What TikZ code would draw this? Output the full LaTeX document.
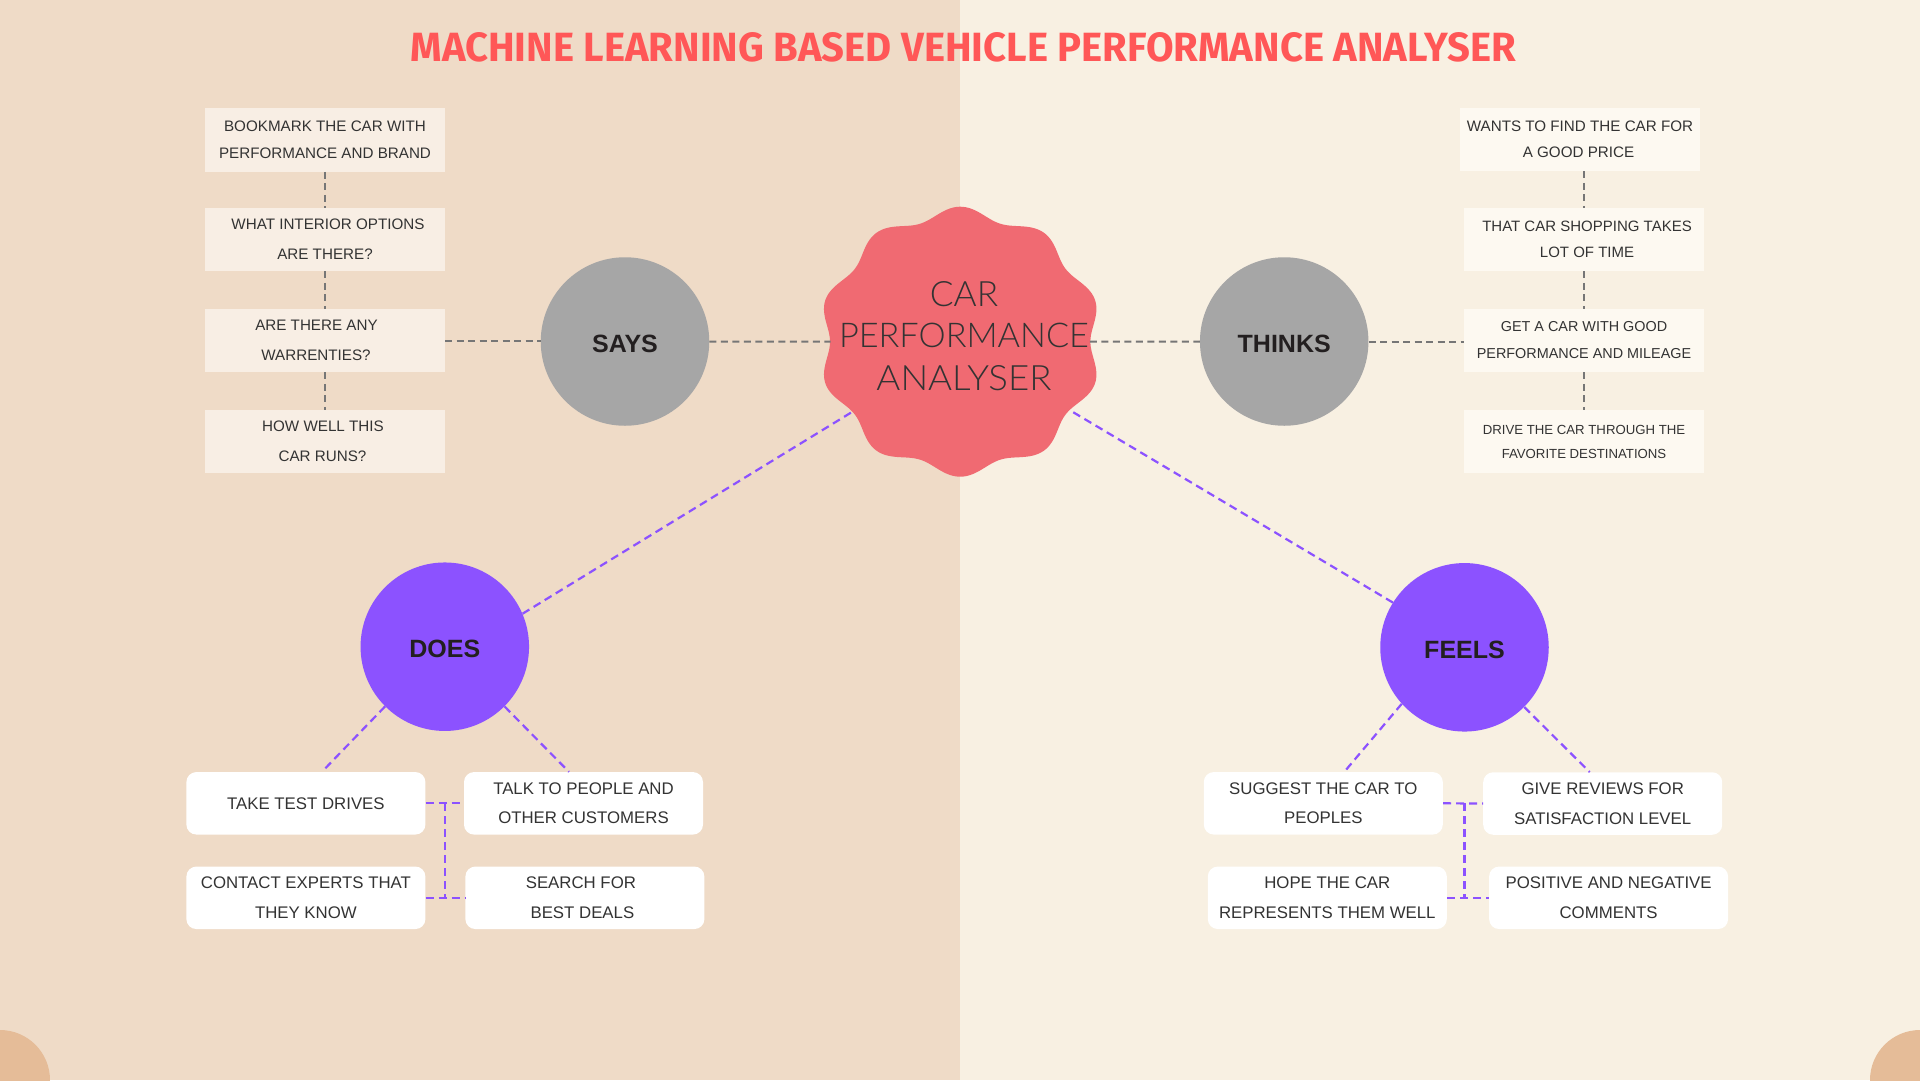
\documentclass[tikz,border=0pt]{standalone}
\usepackage{graphicx}
\usepackage{fontspec}
\setmainfont{Liberation Sans}
\newfontfamily\titlefont{Fira Sans}
\IfFontExistsTF{Lato Light}{\newfontfamily\hubfont{Lato Light}}{\newfontfamily\hubfont{Lato}}
\newcommand{\fitcaps}[3]{\resizebox{#1}{#2}{#3}}
\definecolor{bgL}{HTML}{EFDBC7}
\definecolor{bgR}{HTML}{F8F0E2}
\definecolor{cornerc}{HTML}{E5BC98}
\definecolor{badgec}{HTML}{F06A72}
\definecolor{circgray}{HTML}{A6A6A6}
\definecolor{purp}{HTML}{8C52FF}
\definecolor{titlered}{HTML}{FF5757}
\definecolor{gline}{HTML}{767676}
\definecolor{txt}{HTML}{333333}
\definecolor{darktxt}{HTML}{231F20}
\definecolor{lboxfill}{HTML}{F8EEE4}
\definecolor{rboxfill}{HTML}{FDF9F1}
\tikzset{
  lbox/.style={fill=lboxfill, minimum width=240pt, minimum height=63.5pt, inner sep=0pt,
    align=center, text=txt, font=\fontsize{15}{28}\selectfont},
  rbox/.style={lbox, fill=rboxfill},
  wbox/.style={fill=white, rounded corners=10pt, minimum width=239pt, minimum height=62.5pt,
    inner sep=0pt, align=center, text=txt, font=\fontsize{16.8}{29.5}\selectfont},
  gcirc/.style={circle, fill=circgray, minimum size=168.5pt, inner sep=0pt, text=darktxt,
    font=\fontsize{25}{30}\selectfont\bfseries, text height=22pt, text depth=0pt},
  pcirc/.style={gcirc, fill=purp},
  gdash/.style={draw=gline, line width=2pt, dash pattern=on 7pt off 4.5pt},
  pdash/.style={draw=purp, line width=2.2pt, dash pattern=on 8pt off 5pt},
  hubtxt/.style={inner sep=0pt, anchor=base, text=txt}
}
\begin{document}
\begin{tikzpicture}[x=1pt, y=-1pt]
\useasboundingbox (0,0) rectangle (1920,1080);
\clip (0,0) rectangle (1920,1080);
% backgrounds
\fill[bgL] (0,0) rectangle (960,1080);
\fill[bgR] (960,0) rectangle (1920,1080);
\fill[cornerc] (0,1080) circle[radius=50pt];
\fill[cornerc] (1920,1080) circle[radius=50pt];

% title
\node[inner sep=0pt, anchor=south, text=titlered] (title) at (963.2,62)
  {\fitcaps{1105pt}{29pt}{\titlefont\bfseries MACHINE LEARNING BASED VEHICLE PERFORMANCE ANALYSER}};

% central badge
\begin{scope}[shift={(960.2,341.7)}, xscale=1.05]
  \fill[badgec] plot[domain=0:360, samples=361] (\x:{129.5-5.5*cos(10*\x)}) -- cycle;
\end{scope}
\node[circle, minimum size=259pt, inner sep=0pt] (hub) at (960.2,341.7) {};
\node[hubtxt] (hubA) at (964,306) {\fitcaps{68.3pt}{25pt}{\hubfont CAR}};
\node[hubtxt] (hubB) at (964,347.7) {\fitcaps{250pt}{24.4pt}{\hubfont PERFORMANCE}};
\node[hubtxt] (hubC) at (964,390) {\fitcaps{175pt}{25pt}{\hubfont ANALYSER}};

% circles
\node[gcirc] (says) at (625,341.5) {SAYS};
\node[gcirc] (thinks) at (1284.2,341.5) {THINKS};
\node[pcirc] (does) at (444.8,646.7) {DOES};
\node[pcirc] (feels) at (1464.5,647.3) {FEELS};

% says boxes
\node[lbox, font=\fontsize{15.2}{27}\selectfont] (b1) at (325,140) {BOOKMARK THE CAR WITH\\PERFORMANCE AND BRAND};
\node[lbox, font=\fontsize{15.2}{30}\selectfont] (b2) at (325,239.5) {WHAT INTERIOR OPTIONS\hspace*{-6pt}\\ARE THERE?};
\node[lbox, font=\fontsize{15.2}{29.5}\selectfont] (b3) at (325,340.5) {ARE THERE ANY\hspace*{17pt}\\WARRENTIES?\hspace*{18pt}};
\node[lbox, font=\fontsize{15.2}{30}\selectfont] (b4) at (325,441.5) {HOW WELL THIS\hspace*{4pt}\\CAR RUNS?\hspace*{5pt}};

% thinks boxes
\node[rbox, font=\fontsize{15.2}{26.5}\selectfont] (r1) at (1580,139.5) {WANTS TO FIND THE CAR FOR\\A GOOD PRICE\hspace*{3pt}};
\node[rbox, font=\fontsize{15}{26}\selectfont] (r2) at (1584,239.5) {\hspace*{6pt}THAT CAR SHOPPING TAKES\\\hspace*{6pt}LOT OF TIME};
\node[rbox, font=\fontsize{14.4}{27}\selectfont] (r3) at (1584,340.5) {GET A CAR WITH GOOD\\PERFORMANCE AND MILEAGE};
\node[rbox, font=\fontsize{13.2}{24}\selectfont] (r4) at (1584,441.5) {DRIVE THE CAR THROUGH THE\\FAVORITE DESTINATIONS};

% does boxes
\node[wbox] (take) at (305.9,803.3) {TAKE TEST DRIVES};
\node[wbox] (talk) at (583.5,803.3) {TALK TO PEOPLE AND\\OTHER CUSTOMERS};
\node[wbox] (contact) at (305.9,897.8) {CONTACT EXPERTS THAT\\THEY KNOW};
\node[wbox] (search) at (584.9,897.8) {SEARCH FOR\hspace*{8pt}\\BEST DEALS\hspace*{5pt}};

% feels boxes
\node[wbox] (suggest) at (1323.3,803.3) {SUGGEST THE CAR TO\\PEOPLES};
\node[wbox] (give) at (1602.7,803.5) {GIVE REVIEWS FOR\\SATISFACTION LEVEL};
\node[wbox] (hope) at (1327.3,897.8) {HOPE THE CAR\\REPRESENTS THEM WELL};
\node[wbox] (positive) at (1608.6,897.8) {POSITIVE AND NEGATIVE\\COMMENTS};

% gray connectors
\draw[gdash] (b1.south) -- (b2.north);
\draw[gdash] (b2.south) -- (b3.north);
\draw[gdash] (b3.south) -- (b4.north);
\draw[gdash] (b3.east) -- (b3.east -| says.west);
\draw[gdash] (says.east) -- (hub.west);
\draw[gdash] (hub.east) -- (thinks.west);
\draw[gdash] (thinks.east) -- (thinks.east -| r3.west);
\draw[gdash] (r2.north |- r1.south) -- (r2.north);
\draw[gdash] (r2.south) -- (r3.north);
\draw[gdash] (r3.south) -- (r4.north);

% purple connectors
\draw[pdash] (does.23.7) -- (hub.213.6);
\draw[pdash] (feels.148.8) -- (hub.328.6);
\draw[pdash] (does.225) -- ([xshift=16pt]take.north);
\draw[pdash] (does.315) -- ([xshift=-14.5pt]talk.north);
\draw[pdash] (feels.222) -- ([xshift=21pt]suggest.north);
\draw[pdash] (feels.315) -- ([xshift=-13pt]give.north);
\draw[pdash] (take.east) -- (talk.west);
\draw[pdash] (contact.east) -- (search.west);
\draw[pdash] (take.east -| does.center) -- (contact.east -| does.center);
\draw[pdash] (suggest.east) -- (give.west);
\draw[pdash] (hope.east) -- (positive.west);
\draw[pdash] (suggest.east -| feels.center) -- (hope.east -| feels.center);
\end{tikzpicture}
\end{document}
